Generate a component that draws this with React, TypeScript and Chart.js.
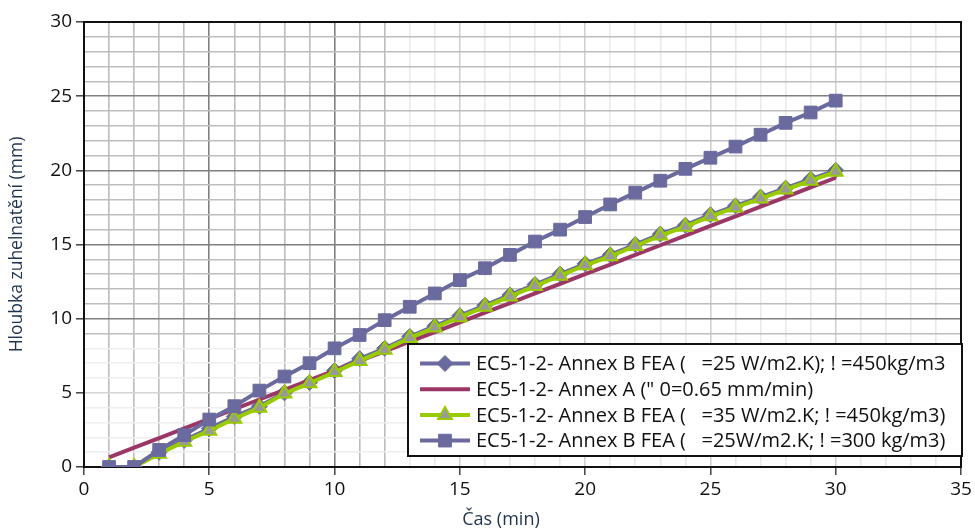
import React, { useEffect, useRef } from 'react';
import { Chart, registerables } from 'chart.js';

Chart.register(...registerables);

const times = [1, 2, 3, 4, 5, 6, 7, 8, 9, 10, 11, 12, 13, 14, 15, 16, 17, 18, 19, 20, 21, 22, 23, 24, 25, 26, 27, 28, 29, 30];
const fea25_450 = [0, 0, 1.0, 1.8, 2.6, 3.4, 4.1, 5.0, 5.7, 6.5, 7.3, 8.0, 8.8, 9.5, 10.2, 10.9, 11.6, 12.3, 13.0, 13.7, 14.3, 15.0, 15.7, 16.3, 17.0, 17.6, 18.2, 18.8, 19.4, 20.0];
const annexA = [0.65, 1.3, 1.95, 2.6, 3.25, 3.9, 4.55, 5.2, 5.85, 6.5, 7.15, 7.8, 8.45, 9.1, 9.75, 10.4, 11.05, 11.7, 12.35, 13.0, 13.65, 14.3, 14.95, 15.6, 16.25, 16.9, 17.55, 18.2, 18.85, 19.5];
const fea35_450 = [0, 0, 0.9, 1.7, 2.45, 3.25, 4.0, 4.95, 5.65, 6.4, 7.15, 7.9, 8.7, 9.4, 10.1, 10.8, 11.5, 12.2, 12.9, 13.6, 14.2, 14.9, 15.6, 16.2, 16.9, 17.5, 18.1, 18.7, 19.3, 19.9];
const fea25_300 = [0, 0, 1.15, 2.15, 3.2, 4.1, 5.15, 6.1, 7.0, 8.0, 8.9, 9.9, 10.8, 11.7, 12.6, 13.4, 14.3, 15.2, 16.0, 16.85, 17.7, 18.5, 19.3, 20.1, 20.85, 21.6, 22.4, 23.2, 23.9, 24.7];

const seriesLabels = [
  'EC5-1-2- Annex B FEA (   =25 W/m2.K); ! =450kg/m3',
  'EC5-1-2- Annex A (" 0=0.65 mm/min)',
  'EC5-1-2- Annex B FEA (   =35 W/m2.K; ! =450kg/m3)',
  'EC5-1-2- Annex B FEA (   =25W/m2.K; ! =300 kg/m3)',
];

const xTickValues = [0, 5, 10, 15, 20, 25, 30, 35];
const yTickValues = [0, 5, 10, 15, 20, 25, 30];

const xTitle = 'Čas (min)';
const yTitle = 'Hloubka zuhelnatění (mm)';

const PURPLE = '#6a6a9e';
const MAROON = '#9b3766';
const LIME = '#99cc00';
const GREY = '#999999';
const TITLE_COLOR = '#1f3350';
const FONT = "'Open Sans', 'Noto Sans', sans-serif";

function drawMarker(ctx: CanvasRenderingContext2D, style: string, x: number, y: number, r: number, fill: string, stroke: string, bw: number) {
  ctx.save();
  ctx.beginPath();
  if (style === 'rectRot') {
    ctx.moveTo(x, y - r);
    ctx.lineTo(x + r, y);
    ctx.lineTo(x, y + r);
    ctx.lineTo(x - r, y);
    ctx.closePath();
  } else if (style === 'triangle') {
    ctx.moveTo(x, y - r);
    ctx.lineTo(x + r * 0.866, y + r * 0.5);
    ctx.lineTo(x - r * 0.866, y + r * 0.5);
    ctx.closePath();
  } else if (style === 'rect') {
    const s = r * Math.SQRT1_2;
    ctx.rect(x - s, y - s, 2 * s, 2 * s);
  }
  ctx.fillStyle = fill;
  ctx.fill();
  if (bw > 0) {
    ctx.lineWidth = bw;
    ctx.strokeStyle = stroke;
    ctx.stroke();
  }
  ctx.restore();
}

const frameAndLegend = {
  id: 'frameAndLegend',
  beforeDatasetsDraw(chart: any) {
    const { ctx, chartArea } = chart;
    ctx.save();
    ctx.strokeStyle = '#111111';
    ctx.lineWidth = 2;
    ctx.strokeRect(chartArea.left, chartArea.top, chartArea.right - chartArea.left, chartArea.bottom - chartArea.top);
    ctx.restore();
  },
  afterDraw(chart: any) {
    const { ctx, chartArea } = chart;
    ctx.save();
    ctx.font = `18px ${FONT}`;
    ctx.fillStyle = TITLE_COLOR;
    ctx.textAlign = 'center';
    ctx.textBaseline = 'middle';
    ctx.fillText(xTitle, chartArea.left + 417, chartArea.bottom + 53);
    ctx.restore();

    const left = chartArea.left + 324;
    const top = chartArea.top + 322;
    const w = chartArea.right - left + 1;
    const h = 112;
    ctx.save();
    ctx.fillStyle = '#ffffff';
    ctx.fillRect(left, top, w, h);
    ctx.strokeStyle = '#111111';
    ctx.lineWidth = 2;
    ctx.strokeRect(left, top, w, h);
    ctx.font = `20px ${FONT}`;
    ctx.textBaseline = 'middle';
    chart.data.datasets.forEach((ds: any, i: number) => {
      const y = top + 19.5 + i * 25.7;
      ctx.beginPath();
      ctx.moveTo(left + 12, y);
      ctx.lineTo(left + 62, y);
      ctx.strokeStyle = ds.borderColor;
      ctx.lineWidth = ds.borderWidth;
      ctx.stroke();
      if (ds.pointRadius > 0) {
        drawMarker(ctx, ds.pointStyle, left + 37, y, ds.pointRadius, ds.pointBackgroundColor, ds.pointBorderColor, ds.pointBorderWidth);
      }
      ctx.fillStyle = '#111111';
      ctx.fillText(ds.label, left + 68, y + 1);
    });
    ctx.restore();
  },
};

export default function App() {
  const ref = useRef<HTMLCanvasElement | null>(null);

  useEffect(() => {
    document.body.style.margin = '0';
    const canvas = ref.current;
    if (!canvas) return;
    const chart = new Chart(canvas, {
      type: 'line',
      data: {
        datasets: [
          {
            label: seriesLabels[0],
            data: times.map((t, i) => ({ x: t, y: fea25_450[i] })),
            borderColor: PURPLE,
            backgroundColor: PURPLE,
            borderWidth: 4,
            pointStyle: 'rectRot',
            pointRadius: 8,
            pointBackgroundColor: PURPLE,
            pointBorderColor: PURPLE,
            pointBorderWidth: 1,
            order: 4,
          },
          {
            label: seriesLabels[1],
            data: times.map((t, i) => ({ x: t, y: annexA[i] })),
            borderColor: MAROON,
            backgroundColor: MAROON,
            borderWidth: 4,
            pointRadius: 0,
            pointStyle: 'circle',
            pointBackgroundColor: MAROON,
            pointBorderColor: MAROON,
            pointBorderWidth: 0,
            order: 3,
          },
          {
            label: seriesLabels[2],
            data: times.map((t, i) => ({ x: t, y: fea35_450[i] })),
            borderColor: LIME,
            backgroundColor: GREY,
            borderWidth: 4,
            pointStyle: 'triangle',
            pointRadius: 8,
            pointBackgroundColor: GREY,
            pointBorderColor: LIME,
            pointBorderWidth: 2,
            order: 2,
          },
          {
            label: seriesLabels[3],
            data: times.map((t, i) => ({ x: t, y: fea25_300[i] })),
            borderColor: PURPLE,
            backgroundColor: PURPLE,
            borderWidth: 4,
            pointStyle: 'rect',
            pointRadius: 9,
            pointBackgroundColor: PURPLE,
            pointBorderColor: PURPLE,
            pointBorderWidth: 1,
            order: 1,
          },
        ],
      },
      options: {
        animation: false,
        responsive: true,
        maintainAspectRatio: false,
        layout: { padding: { left: 0, top: 22, right: 14, bottom: 0 } },
        plugins: {
          legend: { display: false },
          tooltip: { enabled: false },
        },
        elements: { line: { tension: 0 } },
        scales: {
          x: {
            type: 'linear',
            min: 0,
            max: 35,
            afterFit: (s: any) => { s.height = 65; },
            ticks: {
              stepSize: 1,
              autoSkip: false,
              maxRotation: 0,
              padding: 3,
              color: '#111111',
              font: { family: FONT, size: 19 },
              callback: (v: any) => (xTickValues.includes(Number(v)) ? String(v) : ''),
            },
            grid: {
              lineWidth: 1.6,
              tickLength: 8,
              tickWidth: 1.5,
              tickColor: (c: any) => (xTickValues.includes(c.tick?.value) ? '#444444' : 'rgba(0,0,0,0)'),
              color: (c: any) => {
                const v = c.tick?.value ?? 0;
                const major = v % 5 === 0;
                if (v <= 12) return major ? '#808080' : '#bdbdbd';
                return major ? '#d0d0d0' : '#eaeaea';
              },
            },
            border: { display: true, color: '#111111', width: 2 },
            title: { display: false },
          },
          y: {
            type: 'linear',
            min: 0,
            max: 30,
            afterFit: (s: any) => { s.width = 84; },
            ticks: {
              stepSize: 1,
              autoSkip: false,
              padding: 4,
              color: '#111111',
              font: { family: FONT, size: 19 },
              callback: (v: any) => (yTickValues.includes(Number(v)) ? String(v) : ''),
            },
            grid: {
              lineWidth: 1.6,
              tickLength: 8,
              tickWidth: 1.5,
              tickColor: (c: any) => (yTickValues.includes(c.tick?.value) ? '#444444' : 'rgba(0,0,0,0)'),
              color: (c: any) => {
                const v = c.tick?.value ?? 0;
                const major = v % 5 === 0;
                if (v >= 9) return major ? '#808080' : '#bdbdbd';
                return major ? '#d4d4d4' : '#eeeeee';
              },
            },
            border: { display: true, color: '#111111', width: 2 },
            title: {
              display: true,
              text: yTitle,
              color: TITLE_COLOR,
              font: { family: FONT, size: 17.5 },
              padding: { top: 7, bottom: 0 },
            },
          },
        },
      },
      plugins: [frameAndLegend],
    });
    return () => chart.destroy();
  }, []);

  return (
    <div style={{ position: 'fixed', left: 0, top: 0, width: 975, height: 532, background: '#ffffff' }}>
      <canvas ref={ref} />
    </div>
  );
}
